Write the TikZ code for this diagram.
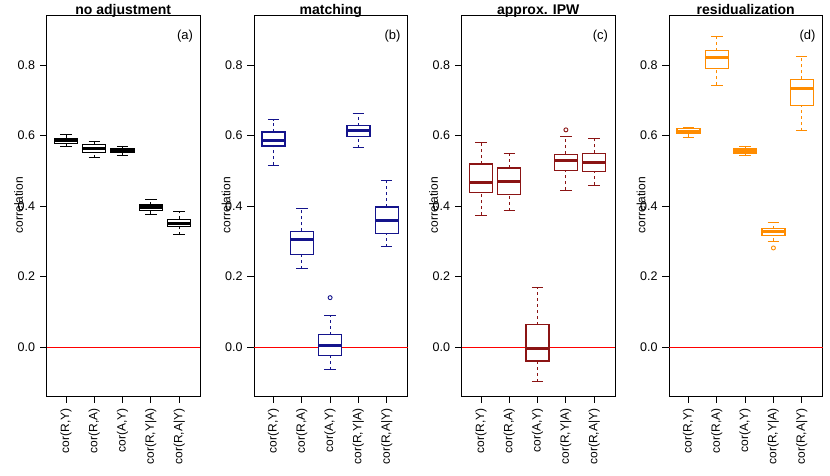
\documentclass[tikz,border=0pt]{standalone}
\usepackage{fontspec}
\setmainfont{Liberation Sans}
\definecolor{cb}{RGB}{0,0,0}
\definecolor{cbl}{RGB}{20,20,140}
\definecolor{cdr}{RGB}{139,20,20}
\definecolor{corng}{RGB}{255,140,0}
\definecolor{zred}{RGB}{255,0,0}
\newcommand\vy[1]{347-352.5*(#1)}
% #1 colour, #2 x, #3 med, #4 q1, #5 q3, #6 wl, #7 wh
\newcommand\bxp[7]{%
 \draw[#1,line width=0.9pt,dash pattern=on 3pt off 3pt] (#2,{\vy{#6}}) -- (#2,{\vy{#4}}) (#2,{\vy{#5}}) -- (#2,{\vy{#7}});
 \draw[#1,line width=1pt] (#2-5.75,{\vy{#6}}) -- (#2+5.75,{\vy{#6}}) (#2-5.75,{\vy{#7}}) -- (#2+5.75,{\vy{#7}});
 \draw[#1,line width=1.3pt,fill=white] (#2-11.5,{\vy{#4}}) rectangle (#2+11.5,{\vy{#5}});
 \draw[#1,line width=3pt] (#2-11.5,{\vy{#3}}) -- (#2+11.5,{\vy{#3}});}
\newcommand\outl[3]{\draw[#1,line width=0.9pt] (#2,{\vy{#3}}) circle (2);}
\begin{document}
\begin{tikzpicture}[x=1pt,y=-1pt,
  ttl/.style={font=\bfseries\fontsize{14}{14}\selectfont,anchor=base},
  tck/.style={font=\fontsize{12.5}{12.5}\selectfont,anchor=east},
  xl/.style={font=\fontsize{12}{12}\selectfont,rotate=90,anchor=east},
  frame/.style={line width=0.9pt}]
\useasboundingbox (0,0) rectangle (830,475);
\foreach \i/\t/\l in {0/no adjustment/a,1/matching/b,2/approx. IPW/c,3/residualization/d}{
  \pgfmathsetmacro\xo{46.5+207.5*\i}
  \draw[frame] (\xo,15) rectangle (\xo+153.5,396);
  \draw[zred,line width=0.8pt] (\xo,{\vy{0}}) -- (\xo+153.5,{\vy{0}});
  \node[ttl] (t\l) at (\xo+76.75,14) {\t};
  \node[font=\fontsize{13}{13}\selectfont,anchor=north east] (p\l) at (\xo+150,27) {(\l)};
  \node[font=\fontsize{12}{12}\selectfont,rotate=90] (c\l) at (\xo-28,205) {correlation};
  \foreach \v in {0.0,0.2,0.4,0.6,0.8}{
    \draw[frame] (\xo,{\vy{\v}}) -- (\xo-7,{\vy{\v}});
    \node[tck] at (\xo-8,{\vy{\v}}) {\v};}
  \foreach \k/\lab in {0/{cor(R,Y)},1/{cor(R,A)},2/{cor(A,Y)},3/{cor(R,Y|A)},4/{cor(R,A|Y)}}{
    \pgfmathsetmacro\xc{\xo+19.5+28.3*\k}
    \draw[frame] (\xc,396) -- (\xc,403);
    \node[xl] at (\xc,405) {\lab};}
}
% panel a
\bxp{cb}{66}{0.585}{0.578}{0.592}{0.570}{0.602}
\bxp{cb}{94.3}{0.562}{0.552}{0.575}{0.537}{0.582}
\bxp{cb}{122.6}{0.557}{0.552}{0.562}{0.543}{0.568}
\bxp{cb}{150.9}{0.395}{0.388}{0.403}{0.376}{0.418}
\bxp{cb}{179.2}{0.350}{0.342}{0.362}{0.318}{0.385}
% panel b
\bxp{cbl}{273.5}{0.585}{0.570}{0.610}{0.515}{0.645}
\bxp{cbl}{301.8}{0.305}{0.262}{0.328}{0.222}{0.392}
\bxp{cbl}{330.1}{0.005}{-0.025}{0.035}{-0.065}{0.090}
\outl{cbl}{330.1}{0.140}
\bxp{cbl}{358.4}{0.615}{0.597}{0.628}{0.565}{0.662}
\bxp{cbl}{386.7}{0.358}{0.322}{0.397}{0.285}{0.472}
% panel c
\bxp{cdr}{481}{0.468}{0.438}{0.519}{0.374}{0.581}
\bxp{cdr}{509.3}{0.470}{0.433}{0.508}{0.387}{0.548}
\bxp{cdr}{537.6}{-0.004}{-0.040}{0.063}{-0.098}{0.170}
\bxp{cdr}{565.9}{0.530}{0.501}{0.547}{0.445}{0.597}
\outl{cdr}{565.9}{0.616}
\bxp{cdr}{594.2}{0.524}{0.498}{0.549}{0.459}{0.591}
% panel d
\bxp{corng}{688.5}{0.612}{0.606}{0.619}{0.595}{0.622}
\bxp{corng}{716.8}{0.820}{0.791}{0.841}{0.742}{0.880}
\bxp{corng}{745.1}{0.557}{0.550}{0.562}{0.543}{0.568}
\bxp{corng}{773.4}{0.327}{0.316}{0.336}{0.300}{0.354}
\outl{corng}{773.4}{0.281}
\bxp{corng}{801.7}{0.732}{0.685}{0.759}{0.613}{0.825}
\end{tikzpicture}
\end{document}
